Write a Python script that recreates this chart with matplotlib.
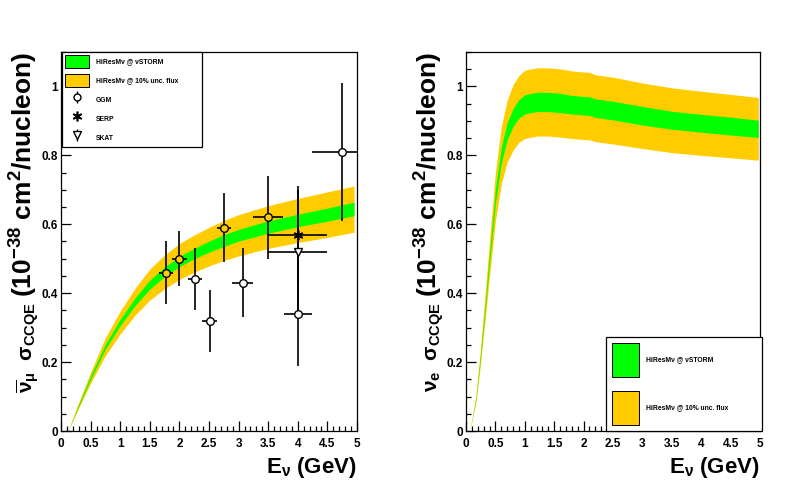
# encoding="utf-8"
# CCQE cross section: HiResMnu bands vs. data

import matplotlib
matplotlib.use("Agg")
import matplotlib.pyplot as plt
from matplotlib.patches import Patch
from matplotlib.lines import Line2D
from matplotlib.legend_handler import HandlerTuple
from matplotlib.ticker import MultipleLocator, FuncFormatter

plt.rcParams['font.family'] = ['Liberation Sans', 'DejaVu Sans']
plt.rcParams['font.weight'] = 'bold'
plt.rcParams['mathtext.fontset'] = 'custom'
plt.rcParams['mathtext.rm'] = 'Liberation Sans:bold'
plt.rcParams['mathtext.it'] = 'Liberation Sans:bold'
plt.rcParams['mathtext.bf'] = 'Liberation Sans:bold'

GREEN = '#00ff00'
ORANGE = '#ffcc00'

# ---- anti-numu band (left) ----
xb_l = [0.12, 0.25, 0.5, 0.75, 1.0, 1.25, 1.5, 1.75, 2.0, 2.25, 2.5, 2.75, 3.0, 3.5, 4.0, 4.5, 4.95]
green_lo_l = [0, 0.053, 0.150, 0.238, 0.306, 0.364, 0.412, 0.448, 0.477, 0.500, 0.519, 0.536, 0.551, 0.574, 0.593, 0.609, 0.625]
green_hi_l = [0, 0.057, 0.160, 0.252, 0.324, 0.386, 0.438, 0.476, 0.507, 0.530, 0.551, 0.570, 0.585, 0.610, 0.629, 0.647, 0.664]
orange_lo_l = [0, 0.049, 0.139, 0.219, 0.282, 0.336, 0.380, 0.413, 0.440, 0.461, 0.479, 0.495, 0.508, 0.530, 0.547, 0.562, 0.577]
orange_hi_l = [0, 0.061, 0.171, 0.271, 0.348, 0.414, 0.470, 0.511, 0.544, 0.569, 0.591, 0.611, 0.628, 0.654, 0.675, 0.694, 0.711]

# ---- nue band (right) ----
xb_r = [0.05, 0.1, 0.17, 0.24, 0.32, 0.41, 0.5, 0.6, 0.7, 0.8, 0.9, 1.0, 1.2, 1.4, 1.6, 1.8, 2.0, 2.1, 2.2, 2.5, 3.0, 3.5, 4.0, 4.5, 4.97]
green_lo_r = [0, 0.029, 0.092, 0.200, 0.340, 0.505, 0.660, 0.777, 0.845, 0.884, 0.908, 0.920, 0.927, 0.927, 0.924, 0.920, 0.917, 0.916, 0.910, 0.903, 0.888, 0.876, 0.867, 0.859, 0.852]
green_hi_r = [0, 0.031, 0.098, 0.212, 0.360, 0.535, 0.700, 0.823, 0.895, 0.936, 0.962, 0.976, 0.983, 0.983, 0.980, 0.974, 0.971, 0.970, 0.964, 0.957, 0.942, 0.928, 0.919, 0.911, 0.902]
orange_lo_r = [0, 0.027, 0.085, 0.185, 0.314, 0.466, 0.609, 0.717, 0.780, 0.815, 0.838, 0.849, 0.856, 0.856, 0.853, 0.849, 0.846, 0.845, 0.840, 0.833, 0.820, 0.808, 0.800, 0.793, 0.786]
orange_hi_r = [0, 0.033, 0.105, 0.227, 0.386, 0.574, 0.751, 0.883, 0.960, 1.005, 1.032, 1.047, 1.054, 1.054, 1.051, 1.045, 1.042, 1.041, 1.034, 1.027, 1.010, 0.996, 0.986, 0.977, 0.968]

# ---- data points (left) ----
# orange filled circles
x_orange = [1.77, 2.0, 2.76, 3.5]
y_orange = [0.46, 0.50, 0.59, 0.62]
xe_orange = [0.12, 0.12, 0.12, 0.25]
ye_orange = [0.09, 0.08, 0.10, 0.12]
# GGM (open circles)
x_ggm = [2.26, 2.51, 3.07, 4.0, 4.74]
y_ggm = [0.44, 0.32, 0.43, 0.34, 0.81]
xe_ggm = [0.12, 0.12, 0.18, 0.24, 0.5]
ye_ggm = [0.09, 0.09, 0.10, 0.15, 0.20]
# SERP
x_serp = [4.0]
y_serp = [0.57]
xe_serp = [0.5]
ye_serp = [0.14]
# SKAT
x_skat = [4.0]
y_skat = [0.52]
xe_skat = [0.5]
ye_skat = [0.18]

W, H = 809, 484
fig = plt.figure(figsize=(W / 100, H / 100), dpi=100)
axl = fig.add_axes([61 / W, 53 / H, 296 / W, 379 / H])
axr = fig.add_axes([466 / W, 53 / H, 294 / W, 379 / H])


def style_axis(ax):
    ax.set_xlim(0, 5)
    ax.set_ylim(0, 1.1)
    ax.xaxis.set_major_locator(MultipleLocator(0.5))
    ax.xaxis.set_minor_locator(MultipleLocator(0.1))
    ax.yaxis.set_major_locator(MultipleLocator(0.2))
    ax.yaxis.set_minor_locator(MultipleLocator(0.05))
    fmt = FuncFormatter(lambda v, p: f'{v:g}')
    ax.xaxis.set_major_formatter(fmt)
    ax.yaxis.set_major_formatter(fmt)
    ax.tick_params(which='both', direction='in', top=False, right=False,
                   labelsize=8.5, width=0.9, color='black')
    ax.tick_params(axis='x', which='major', length=7, pad=5)
    ax.tick_params(axis='y', which='major', length=7, pad=2)
    ax.tick_params(which='minor', length=3.5)
    for lab in ax.get_xticklabels() + ax.get_yticklabels():
        lab.set_fontweight('bold')
    for s in ax.spines.values():
        s.set_linewidth(0.9)


# left panel
axl.fill_between(xb_l, orange_lo_l, orange_hi_l, color=ORANGE, lw=0, zorder=1)
axl.fill_between(xb_l, green_lo_l, green_hi_l, color=GREEN, lw=0, zorder=2)

eb_kw = dict(fmt='none', ecolor='black', elinewidth=1.2, capsize=0, zorder=3, clip_on=True)
axl.errorbar(x_orange, y_orange, xerr=xe_orange, yerr=ye_orange, **eb_kw)
axl.errorbar(x_ggm, y_ggm, xerr=xe_ggm, yerr=ye_ggm, **eb_kw)
axl.errorbar(x_serp, y_serp, xerr=xe_serp, yerr=ye_serp, **eb_kw)
axl.errorbar(x_skat, y_skat, xerr=xe_skat, yerr=ye_skat, **eb_kw)
axl.plot(x_orange, y_orange, 'o', ms=5.5, mfc=ORANGE, mec='black', mew=1.0, zorder=4)
axl.plot(x_ggm, y_ggm, 'o', ms=5.5, mfc='white', mec='black', mew=1.0, zorder=4)
axl.plot(x_serp, y_serp, marker=(6, 2, 0), ls='none', ms=7, mec='black', mew=1.2, zorder=4)
axl.plot(x_skat, y_skat, 'v', ms=6, mfc='white', mec='black', mew=1.0, zorder=4)
style_axis(axl)

bar = dict(marker='|', ls='none', ms=9, mec='black', mew=1.0)
h_green = Patch(facecolor=GREEN, edgecolor='black', lw=0.7)
h_orange = Patch(facecolor=ORANGE, edgecolor='black', lw=0.7)
h_ggm = (Line2D([], [], **bar), Line2D([], [], marker='o', ls='none', ms=5, mfc='white', mec='black', mew=1.0))
h_serp = Line2D([], [], marker=(6, 2, 0), ls='none', ms=7, mec='black', mew=1.2)
h_skat = (Line2D([], [], **bar), Line2D([], [], marker='v', ls='none', ms=5.5, mfc='white', mec='black', mew=1.0))
legl = axl.legend([h_green, h_orange, h_ggm, h_serp, h_skat],
                  ['HiResM\u03bd @ \u03bdSTORM', 'HiResM\u03bd @ 10% unc. flux', 'GGM', 'SERP', 'SKAT'],
                  handler_map={tuple: HandlerTuple(ndivide=1)},
                  loc='upper left', bbox_to_anchor=(0.0034, 0.75, 0.473, 0.25), mode='expand',
                  borderaxespad=0, handlelength=3.6, handleheight=2.56, handletextpad=1.0,
                  labelspacing=0.9, borderpad=0.4, fancybox=False, framealpha=1,
                  edgecolor='black', prop={'weight': 'bold', 'size': 4.9})
legl.get_frame().set_linewidth(0.9)
legl.set_zorder(6)

# right panel
axr.fill_between(xb_r, orange_lo_r, orange_hi_r, color=ORANGE, lw=0, zorder=1)
axr.fill_between(xb_r, green_lo_r, green_hi_r, color=GREEN, lw=0, zorder=2)
style_axis(axr)

legr = axr.legend([h_green, h_orange],
                  ['HiResM\u03bd @ \u03bdSTORM', 'HiResM\u03bd @ 10% unc. flux'],
                  loc='lower left', bbox_to_anchor=(0.476, 0.0, 0.531, 0.248), mode='expand',
                  borderaxespad=0, handlelength=4.0, handleheight=7.3, handletextpad=1.0,
                  labelspacing=2.0, borderpad=0.9, fancybox=False, framealpha=1,
                  edgecolor='black', prop={'weight': 'bold', 'size': 4.9})
legr.get_frame().set_linewidth(0.9)
legr.set_zorder(6)

# axis titles (ROOT style: right/top aligned)
for ax in (axl, axr):
    ax.set_xlabel(r'E$_{\nu}$ (GeV)', fontsize=16, fontweight='bold', loc='right', labelpad=4)

txt_kw = dict(rotation=90, rotation_mode='anchor', ha='right', va='baseline', fontweight='bold')
fig.text(33 / W, 1 - 52 / H, r'(10$^{-38}$ cm$^{2}$/nucleon)', fontsize=19, **txt_kw)
fig.text(33 / W, 1 - 302 / H, r'$\overline{\nu}_{\mu}$  $\sigma_{CCQE}$', fontsize=15, **txt_kw)
fig.text(438 / W, 1 - 52 / H, r'(10$^{-38}$ cm$^{2}$/nucleon)', fontsize=19, **txt_kw)
fig.text(438 / W, 1 - 302 / H, r'$\nu_{e}$  $\sigma_{CCQE}$', fontsize=15, **txt_kw)

fig.savefig('out.png', dpi=100, facecolor='white')
